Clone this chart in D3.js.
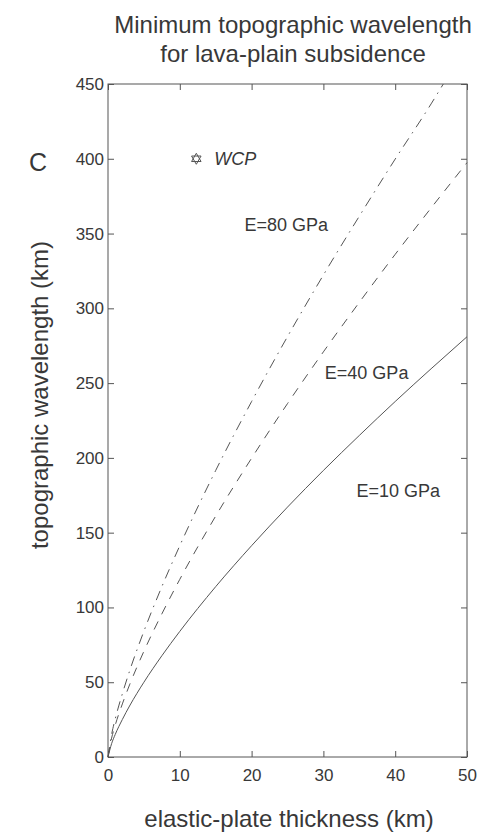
<!DOCTYPE html>
<html><head><meta charset="utf-8">
<script src="https://cdn.jsdelivr.net/npm/d3@7"></script>
<style>body{margin:0;background:#fff}text{font-family:"Liberation Sans",Arial,sans-serif;fill:#383838}</style>
</head><body><svg id="c" width="481" height="835"></svg>
<script>
const thickness = [0, 0.5, 1, 2, 3, 5, 7.5, 10, 15, 20, 25, 30, 35, 40, 45, 50];
const wl10 = [0, 8.9, 15.0, 25.1, 34.1, 50.0, 67.7, 84.0, 113.9, 141.3, 167.1, 191.6, 215.0, 237.7, 259.6, 281];
const wl40 = [0, 12.6, 21.2, 35.5, 48.2, 70.7, 95.7, 118.8, 161.1, 199.8, 236.3, 270.9, 304.0, 336.1, 367.1, 397.4];
const thickness80 = [0, 0.5, 1, 2, 3, 5, 7.5, 10, 15, 20, 25, 30, 35, 40, 45, 46.7];
const wl80 = [0, 15.0, 25.3, 42.3, 57.4, 84.1, 113.9, 141.3, 191.6, 237.7, 281.1, 322.3, 361.6, 399.8, 436.7, 450];
const xTicks = [0, 10, 20, 30, 40, 50];
const yTicks = [0, 50, 100, 150, 200, 250, 300, 350, 400, 450];
const wcp = {h: 12.3, wl: 400, label: "WCP"};
const labels = [
  {text: "E=80 GPa", h: 19.0, wl: 352},
  {text: "E=40 GPa", h: 30.2, wl: 253},
  {text: "E=10 GPa", h: 34.6, wl: 174}
];

const svg = d3.select("#c");
const L = 108, R = 467, T = 84, B = 757;
const x = d3.scaleLinear().domain([0, 50]).range([L, R]);
const y = d3.scaleLinear().domain([0, 450]).range([B, T]);
const col = "#555";

const g = svg.append("g");
g.append("rect").attr("x", L).attr("y", T).attr("width", R - L).attr("height", B - T)
  .attr("fill", "none").attr("stroke", col).attr("stroke-width", 1);

const ax = (axis, tr) => {
  const a = g.append("g").attr("transform", tr).call(axis);
  a.select(".domain").remove();
  a.selectAll("line").attr("stroke", col);
  a.selectAll("text").style("font-size", "17px").style("font-family", "'Liberation Sans',Arial,sans-serif").attr("fill", "#383838");
  return a;
};
ax(d3.axisBottom(x).tickValues(xTicks).tickSizeInner(-6).tickSizeOuter(0).tickPadding(12), `translate(0,${B})`);
ax(d3.axisTop(x).tickValues(xTicks).tickSizeInner(-6).tickSizeOuter(0).tickFormat(""), `translate(0,${T})`);
ax(d3.axisLeft(y).tickValues(yTicks).tickSizeInner(-6).tickSizeOuter(0).tickPadding(4), `translate(${L},0)`);
ax(d3.axisRight(y).tickValues(yTicks).tickSizeInner(-6).tickSizeOuter(0).tickFormat(""), `translate(${R},0)`);

const line = d3.line().x(d => x(d[0])).y(d => y(d[1])).curve(d3.curveMonotoneX);
const mk = (xs, ys) => xs.map((v, i) => [v, ys[i]]);
g.append("path").attr("d", line(mk(thickness, wl10))).attr("fill", "none").attr("stroke", col).attr("stroke-width", 1);
g.append("path").attr("d", line(mk(thickness, wl40))).attr("fill", "none").attr("stroke", col).attr("stroke-width", 1).attr("stroke-dasharray", "9,8");
g.append("path").attr("d", line(mk(thickness80, wl80))).attr("fill", "none").attr("stroke", col).attr("stroke-width", 1).attr("stroke-dasharray", "10,6,1.5,6");

labels.forEach(l => g.append("text").attr("x", x(l.h)).attr("y", y(l.wl))
  .style("font-size", "18px").text(l.text));

const sx = x(wcp.h), sy = y(wcp.wl), r = 5.5;
const tri = a0 => d3.range(3).map(i => { const a = a0 + i * 2 * Math.PI / 3; return [sx + r * Math.sin(a), sy - r * Math.cos(a)]; });
[0, Math.PI].forEach(a0 => g.append("path").attr("d", d3.line()(tri(a0)) + "Z")
  .attr("fill", "none").attr("stroke", col).attr("stroke-width", 1));
g.append("text").attr("x", sx + 18).attr("y", sy).attr("dy", "0.36em")
  .style("font-size", "18px").style("font-style", "italic").text(wcp.label);

svg.append("text").attr("x", 293).attr("y", 33).attr("text-anchor", "middle").style("font-size", "24px").text("Minimum topographic wavelength");
svg.append("text").attr("x", 293).attr("y", 62).attr("text-anchor", "middle").style("font-size", "24px").text("for lava-plain subsidence");
svg.append("text").attr("x", 38).attr("y", 171).attr("text-anchor", "middle").style("font-size", "25px").text("C");
svg.append("text").attr("transform", "translate(48,395) rotate(-90)").attr("text-anchor", "middle").style("font-size", "24px").text("topographic wavelength (km)");
svg.append("text").attr("x", 289).attr("y", 827).attr("text-anchor", "middle").style("font-size", "24px").text("elastic-plate thickness (km)");
</script></body></html>
